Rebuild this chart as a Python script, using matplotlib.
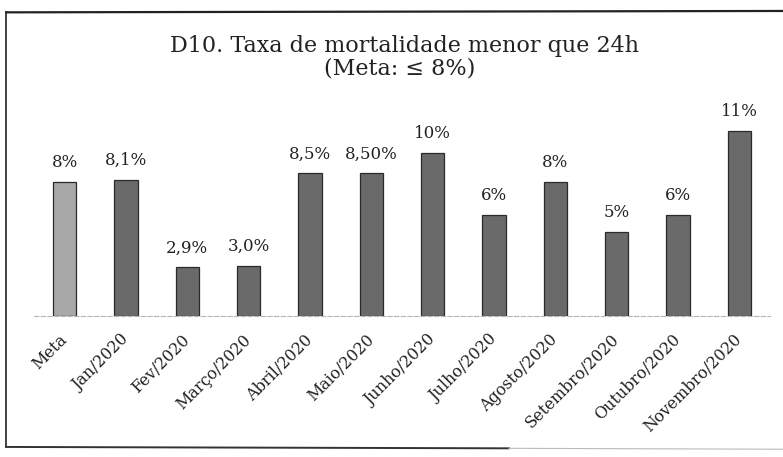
import numpy as np
import matplotlib
matplotlib.use("Agg")
import matplotlib.pyplot as plt
from matplotlib.lines import Line2D
from matplotlib.transforms import ScaledTranslation

# dados
categorias = ["Meta", "Jan/2020", "Fev/2020", "Março/2020", "Abril/2020", "Maio/2020",
              "Junho/2020", "Julho/2020", "Agosto/2020", "Setembro/2020", "Outubro/2020",
              "Novembro/2020"]
valores = [8.0, 8.1, 2.9, 3.0, 8.5, 8.5, 9.7, 6.0, 8.0, 5.0, 6.0, 11.0]
rotulos = ["8%", "8,1%", "2,9%", "3,0%", "8,5%", "8,50%", "10%", "6%", "8%", "5%", "6%", "11%"]

plt.rcParams["font.family"] = ["DejaVu Serif"]

fig = plt.figure(figsize=(7.83, 4.57), dpi=100)
ax = fig.add_axes([0.0434, 0.3085, 0.94, 0.441])

x = np.arange(len(categorias))
cores = ["#a8a8a8"] + ["#6a6a6a"] * (len(categorias) - 1)
bars = ax.bar(x, valores, width=0.38, color=cores, edgecolor="#2a2a2a", linewidth=0.9)

for b, txt in zip(bars, rotulos):
    ax.text(b.get_x() + b.get_width() / 2, b.get_height() + 0.65, txt,
            ha="center", va="bottom", fontsize=12, color="#222222")

ax.set_xlim(-0.5, len(categorias) - 0.5)
ax.set_ylim(0, 12)
ax.set_xticks(x)
ax.set_xticklabels(categorias, rotation=45, ha="right", rotation_mode="anchor",
                   fontsize=11.5, color="#222222")
ax.tick_params(axis="x", length=0, pad=11)
# desloca um pouco os rótulos para a esquerda
desloc = ScaledTranslation(-6 / 100, 0, fig.dpi_scale_trans)
for lbl in ax.get_xticklabels():
    lbl.set_transform(lbl.get_transform() + desloc)
ax.set_yticks([])
for s in ["top", "right", "left"]:
    ax.spines[s].set_visible(False)
ax.spines["bottom"].set_color("#b5b5b5")
ax.spines["bottom"].set_linestyle((0, (4, 2)))

fig.text(0.517, 1 - 52 / 457, "D10. Taxa de mortalidade menor que 24h",
         ha="center", va="baseline", fontsize=16, color="#222222")
fig.text(0.51, 1 - 74 / 457, "(Meta: ≤ 8%)",
         ha="center", va="baseline", fontsize=16, color="#222222")

# moldura
fig.add_artist(Line2D([0.008, 0.008], [0.022, 0.973], color="#222222", lw=1.2))
fig.add_artist(Line2D([0.008, 1.0], [0.973, 0.976], color="#222222", lw=1.6))
fig.add_artist(Line2D([0.008, 0.65], [0.022, 0.019], color="#333333", lw=1.4))
fig.add_artist(Line2D([0.65, 1.0], [0.019, 0.017], color="#bbbbbb", lw=0.8))

fig.savefig("out.png", dpi=100)
